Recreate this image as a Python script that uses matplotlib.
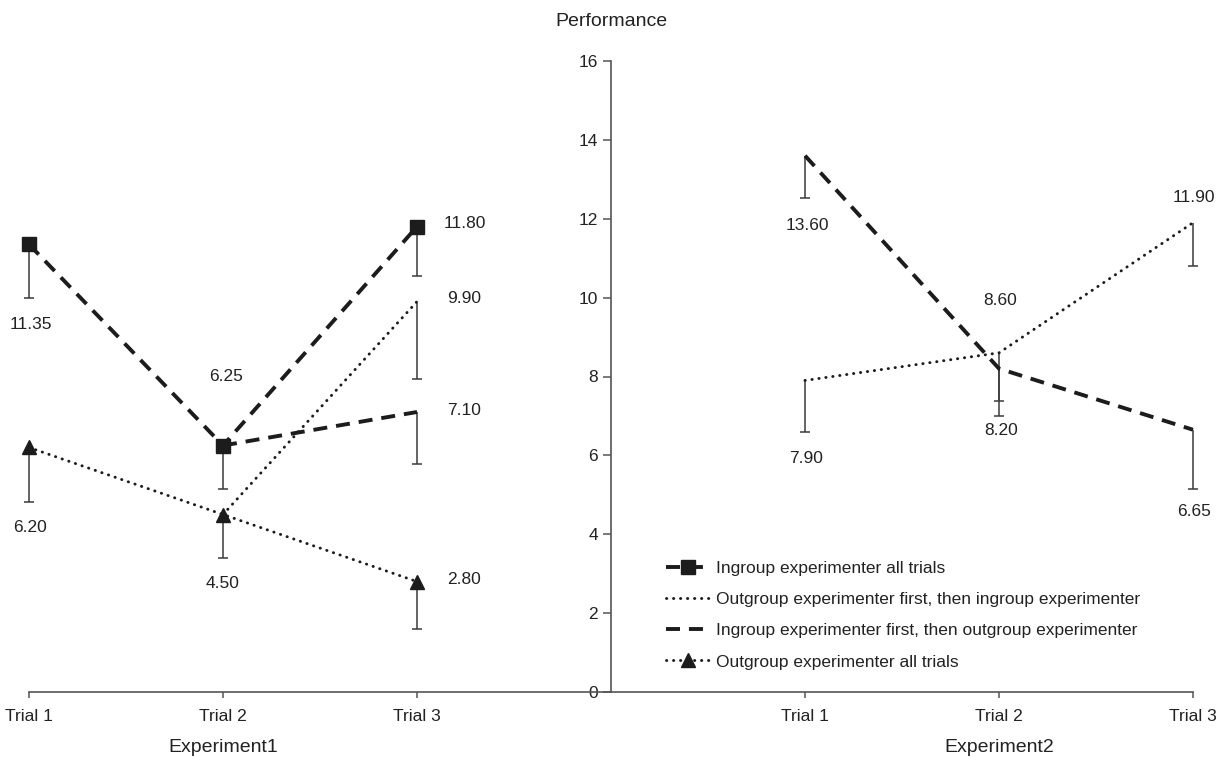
import numpy as np
import matplotlib.pyplot as plt
from matplotlib.lines import Line2D

plt.rcParams['font.family'] = ['Liberation Sans', 'DejaVu Sans']

trial_labels = ["Trial 1", "Trial 2", "Trial 3"]
exp1_x = [0, 1, 2]
exp2_x = [4, 5, 6]
yaxis_x = 3

# Experiment 1 (nan = segment / bar not drawn)
exp1_ingroup_all = [11.35, 6.25, 11.80]
exp1_ingroup_all_err = [1.36, 1.10, 1.25]
exp1_outgroup_all = [6.20, 4.50, 2.80]
exp1_outgroup_all_err = [1.38, 1.10, 1.20]
exp1_out_then_in = [np.nan, 4.50, 9.90]
exp1_out_then_in_err = [np.nan, np.nan, 1.96]
exp1_in_then_out = [np.nan, 6.25, 7.10]
exp1_in_then_out_err = [np.nan, np.nan, 1.32]

# Experiment 2
exp2_out_then_in = [7.90, 8.60, 11.90]
exp2_out_then_in_err = [1.31, 1.22, 1.10]
exp2_in_then_out = [13.60, 8.20, 6.65]
exp2_in_then_out_err = [1.07, 1.20, 1.50]

legend_labels = ["Ingroup experimenter all trials",
                 "Outgroup experimenter first, then ingroup experimenter",
                 "Ingroup experimenter first, then outgroup experimenter",
                 "Outgroup experimenter all trials"]

# value labels: (x, value, offset px)
value_labels = [
    (0, exp1_ingroup_all[0], (2, -80)),
    (1, exp1_ingroup_all[1], (3, 69)),
    (2, exp1_ingroup_all[2], (48, 3)),
    (2, exp1_out_then_in[2], (47, 3)),
    (2, exp1_in_then_out[2], (47, 1)),
    (0, exp1_outgroup_all[0], (1, -80)),
    (1, exp1_outgroup_all[1], (0, -69)),
    (2, exp1_outgroup_all[2], (47, 2)),
    (4, exp2_in_then_out[0], (2, -70)),
    (5, exp2_out_then_in[1], (1, 52)),
    (6, exp2_out_then_in[2], (1, 25)),
    (4, exp2_out_then_in[0], (1, -78)),
    (5, exp2_in_then_out[1], (2, -62)),
    (6, exp2_in_then_out[2], (1, -82)),
]

ink = '#1c1c1c'
bar_c = '#3a3a3a'
dashed = dict(color=ink, lw=2.8, dashes=(3.6, 2.3))
dotted = dict(color=ink, lw=2.1, dashes=(0.1, 2.3), dash_capstyle='round')

fig = plt.figure(figsize=(12.31, 7.57), dpi=100)
ax = fig.add_axes([0, 65 / 757, 1, 631 / 757])
ax.set_xlim(-29 / 194, -29 / 194 + 1231 / 194)
ax.set_ylim(0, 16)


def errbars(x, y, err):
    x = np.asarray(x, float)
    y = np.asarray(y, float)
    err = np.asarray(err, float)
    ok = ~np.isnan(err)
    ax.vlines(x[ok], (y - err)[ok], y[ok], color=bar_c, lw=1.1, zorder=2)
    ax.plot(x[ok], (y - err)[ok], ls='none', marker='_', ms=6.5, mew=1.1,
            color=bar_c, zorder=2)


errbars(exp1_x, exp1_ingroup_all, exp1_ingroup_all_err)
errbars(exp1_x, exp1_outgroup_all, exp1_outgroup_all_err)
errbars(exp1_x, exp1_out_then_in, exp1_out_then_in_err)
errbars(exp1_x, exp1_in_then_out, exp1_in_then_out_err)
errbars(exp2_x, exp2_out_then_in, exp2_out_then_in_err)
errbars(exp2_x, exp2_in_then_out, exp2_in_then_out_err)

h1, = ax.plot(exp1_x, exp1_ingroup_all, marker='s', ms=9.5, mfc=ink, mec=ink,
              zorder=4, **dashed)
h2, = ax.plot(exp1_x, exp1_out_then_in, zorder=3, **dotted)
h3, = ax.plot(exp1_x, exp1_in_then_out, zorder=3, **dashed)
h4, = ax.plot(exp1_x, exp1_outgroup_all, marker='^', ms=10, mfc=ink, mec=ink,
              zorder=4, **dotted)
ax.plot(exp2_x, exp2_out_then_in, zorder=3, **dotted)
ax.plot(exp2_x, exp2_in_then_out, zorder=3, **dashed)

for x, v, off in value_labels:
    ax.annotate(f"{v:.2f}", (x, v), xytext=off, textcoords='offset pixels',
                ha='center', va='center', fontsize=12.5, color='#222')

# axes styling
for s in ['top', 'right']:
    ax.spines[s].set_visible(False)
ax.spines['left'].set_position(('data', yaxis_x))
ax.spines['left'].set_bounds(0, 16)
ax.spines['bottom'].set_bounds(0, 6)
for s in ['left', 'bottom']:
    ax.spines[s].set_color('#555')
    ax.spines[s].set_linewidth(1.2)
ax.set_yticks(range(0, 17, 2))
ax.set_xticks(exp1_x + exp2_x)
ax.set_xticklabels(trial_labels + trial_labels)
ax.tick_params(axis='y', direction='out', length=5.5, width=1.1, color='#555',
               pad=4, labelsize=12.5, labelcolor='#222')
ax.tick_params(axis='x', direction='out', length=4.5, width=1.1, color='#555',
               pad=7.5, labelsize=12.5, labelcolor='#222')

ax.text(yaxis_x, 17.0, "Performance", ha='center', va='center', fontsize=14,
        color='#222')
ax.text(1, -1.4, "Experiment1", ha='center', va='center', fontsize=14,
        color='#222')
ax.text(5, -1.4, "Experiment2", ha='center', va='center', fontsize=14,
        color='#222')

ax.legend([h1, h2, h3, h4], legend_labels, loc='upper left',
          bbox_to_anchor=(666 / 1231, 1 - 561 / 757), bbox_transform=fig.transFigure,
          frameon=False, fontsize=12.5, handlelength=2.5, handletextpad=0.4,
          labelspacing=0.92, borderpad=0, borderaxespad=0, numpoints=1,
          labelcolor='#222')

fig.savefig("out.png", dpi=100)
